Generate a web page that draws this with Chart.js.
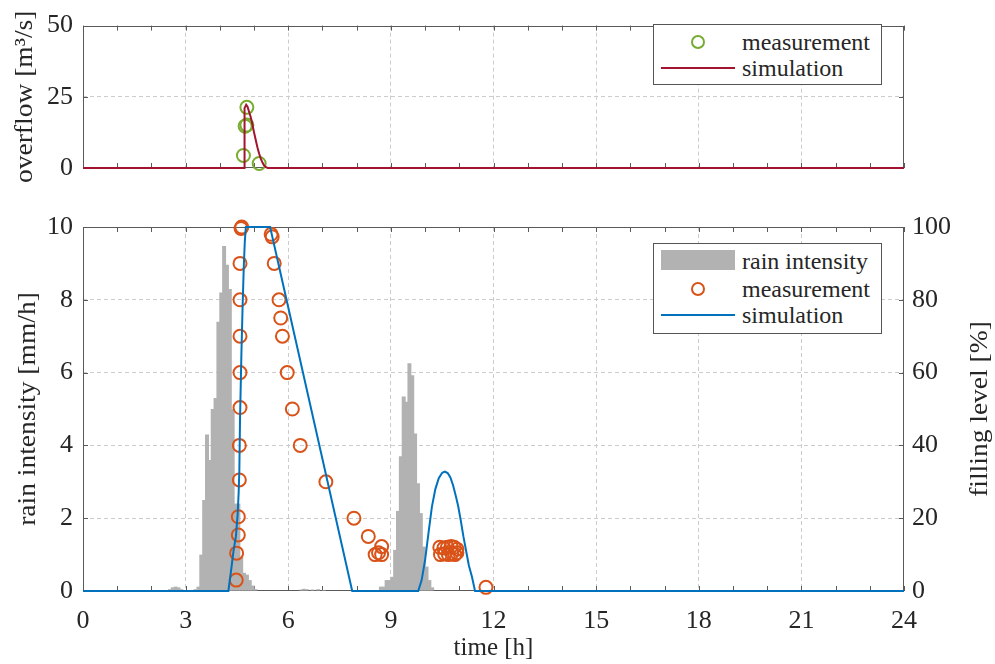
<!DOCTYPE html>
<html>
<head>
<meta charset="utf-8">
<script src="https://cdn.jsdelivr.net/npm/chart.js@4.4.1/dist/chart.umd.min.js"></script>
<style>
  html, body { margin: 0; padding: 0; background: #fff; }
  #wrap { position: relative; width: 995px; height: 664px; overflow: hidden; font-family: "Liberation Serif", serif; color: #262626; }
  #top { position: absolute; left: 0; top: 0; }
  #bottom { position: absolute; left: 0; top: 200px; }
  .legend { position: absolute; border: 1px solid #555; background: #fff; box-sizing: border-box; }
  .lt { position: absolute; font-size: 24px; line-height: 28px; white-space: nowrap; }
  .sym { position: absolute; box-sizing: border-box; }
</style>
</head>
<body>
<div id="wrap">
  <canvas id="top" width="995" height="200"></canvas>
  <canvas id="bottom" width="995" height="464"></canvas>

  <div class="legend" style="left:653px;top:24px;width:229px;height:61px;"></div>
  <div class="sym" id="legTopMeas" style="left:691px;top:35px;width:14px;height:14px;border-radius:50%;"></div>
  <div class="lt" id="legTopMeasTxt" style="left:742px;top:28px;"></div>
  <div class="sym" id="legTopSim" style="left:661px;top:67px;width:74px;height:2px;"></div>
  <div class="lt" id="legTopSimTxt" style="left:742px;top:54px;"></div>

  <div class="legend" style="left:653px;top:243px;width:229px;height:91px;"></div>
  <div class="sym" id="legRain" style="left:661px;top:250px;width:74px;height:20px;"></div>
  <div class="lt" id="legRainTxt" style="left:742px;top:247px;"></div>
  <div class="sym" id="legBotMeas" style="left:691px;top:282px;width:14px;height:14px;border-radius:50%;"></div>
  <div class="lt" id="legBotMeasTxt" style="left:742px;top:275px;"></div>
  <div class="sym" id="legBotSim" style="left:661px;top:314px;width:74px;height:2px;"></div>
  <div class="lt" id="legBotSimTxt" style="left:742px;top:301px;"></div>
</div>
<script>
// ---------------- data ----------------
const timeRange = [0, 24];
const timeLabelStep = 3;
const timeMinorStep = 1;

// top panel: overflow [m^3/s]
const overflowMeasTime  = [4.69, 4.74, 4.79, 4.79, 5.15];
const overflowMeasValue = [4.4, 14.7, 15.1, 21.3, 1.6];
const overflowSimTime  = [0, 4.71, 4.715, 4.73, 4.77, 4.81, 4.86, 4.90, 4.95, 5.00, 5.05, 5.10, 5.15, 5.20, 5.25, 5.30, 5.36, 5.40, 24];
const overflowSimValue = [0, 0, 18, 21, 22.2, 21.5, 19.5, 18, 15.5, 12.5, 9.8, 7.2, 5, 3.2, 1.8, 0.8, 0.2, 0, 0];
const overflowTicks = [0, 25, 50];

// bottom panel: rain intensity [mm/h] (5-minute bins, bin centres in hours)
const rainTime = [2.542, 2.625, 2.708, 2.792, 2.875, 3.208, 3.292, 3.375, 3.458, 3.542, 3.625, 3.708, 3.792, 3.875, 3.958,
  4.042, 4.125, 4.208, 4.292, 4.375, 4.458, 4.542, 4.625, 4.708, 4.792, 4.875, 4.958, 5.042,
  6.375, 6.458, 6.542, 6.708, 6.875, 7.042,
  8.708, 8.792, 8.875, 8.958, 9.042, 9.125, 9.208, 9.292, 9.375, 9.458, 9.542, 9.625, 9.708, 9.792, 9.875, 9.958, 10.042, 10.125, 10.208];
const rainIntensity = [0.05, 0.1, 0.12, 0.1, 0.05, 0.03, 0.05, 0.12, 1.0, 2.5, 4.3, 3.6, 5.0, 5.3, 7.4,
  8.2, 9.48, 8.96, 8.3, 5.0, 2.4, 2.4, 0.94, 0.5, 0.45, 0.3, 0.15, 0.05,
  0.04, 0.06, 0.05, 0.04, 0.05, 0.03,
  0.12, 0.12, 0.3, 0.3, 0.39, 1.13, 2.2, 3.7, 5.34, 5.2, 6.26, 5.93, 4.33, 2.96, 2.14, 1.22, 0.67, 0.3, 0.1];

// bottom panel: filling level [%]
const fillMeasTime  = [4.48, 4.49, 4.54, 4.54, 4.57, 4.57, 4.59, 4.59, 4.59, 4.59, 4.59, 4.62, 4.64,
  5.50, 5.53, 5.59, 5.73, 5.78, 5.83, 5.97, 6.12, 6.35, 7.10, 7.92, 8.34, 8.54, 8.64, 8.73, 8.73,
  10.43, 10.45, 10.55, 10.57, 10.65, 10.68, 10.76, 10.78, 10.85, 10.87, 10.93, 10.93, 11.78];
const fillMeasValue = [3, 10.4, 15.4, 20.4, 30.5, 40, 50.4, 60, 70, 80, 90, 99.6, 100,
  98, 97.3, 90, 80, 75, 70, 60, 50, 40, 30, 20, 15, 10, 10.5, 12.2, 10,
  12, 10, 11.8, 10.2, 12, 10, 12.2, 10.4, 12, 10, 11.5, 10.5, 1];
const fillSimTime  = [0, 4.25, 4.32, 4.40, 4.47, 4.52, 4.55, 4.57, 4.59, 4.63, 4.665, 4.70, 4.73, 4.76, 5.47, 7.87,
  9.80, 9.90, 10.00, 10.10, 10.20, 10.30, 10.40, 10.50, 10.58, 10.66, 10.74, 10.82, 10.90, 10.97, 11.05, 11.12, 11.20, 11.28, 11.37, 11.46, 24];
const fillSimValue = [0, 0, 5, 11, 15, 21, 27, 33, 47, 65, 78, 89, 96, 100, 100, 0,
  0, 3, 8.5, 16, 23.2, 28, 31, 32.5, 32.8, 32.4, 31.2, 29, 26, 23.2, 19, 15, 11, 7, 3.9, 0, 0];
const rainTicksMax = 10, rainTickStep = 2;
const fillTicksMax = 100, fillTickStep = 20;

// labels
const labels = {
  xTitle: 'time [h]',
  overflowTitle: 'overflow [m³/s]',
  rainTitle: 'rain intensity [mm/h]',
  fillTitle: 'filling level [%]',
  rain: 'rain intensity',
  meas: 'measurement',
  sim: 'simulation'
};

// ---------------- style ----------------
const GREEN = '#77AC30', RED = '#A2142F', ORANGE = '#D95319', BLUE = '#0072BD', GRAY = '#b2b2b2';
const TEXT = '#262626', AXIS = '#5a5a5a', GRID = '#cccccc';
const FAMILY = "'Liberation Serif', serif";
const TICK_FONT = { family: FAMILY, size: 26 };
const TITLE_FONT = { family: FAMILY, size: 25 };
const TITLE_STRETCH = 1.1;
Chart.defaults.font.family = FAMILY;
Chart.defaults.font.size = 24;
Chart.defaults.color = TEXT;

const zip = (xs, ys) => xs.map((x, i) => ({ x: x, y: ys[i] }));
const TICK = 5;

const axisFrame = {
  id: 'axisFrame',
  beforeDatasetsDraw(chart) {
    const { ctx, chartArea: a, scales } = chart;
    ctx.save();
    ctx.strokeStyle = AXIS;
    ctx.lineWidth = 1;
    ctx.beginPath();
    const x = scales.x;
    for (let v = x.min; v <= x.max + 1e-9; v += timeMinorStep) {
      const px = Math.round(x.getPixelForValue(v)) + 0.5;
      ctx.moveTo(px, a.bottom); ctx.lineTo(px, a.bottom - TICK);
      ctx.moveTo(px, a.top); ctx.lineTo(px, a.top + TICK);
    }
    const yl = scales.y;
    yl.ticks.forEach(t => {
      const py = Math.round(yl.getPixelForValue(t.value)) + 0.5;
      ctx.moveTo(a.left, py); ctx.lineTo(a.left + TICK, py);
      if (!scales.y2) { ctx.moveTo(a.right, py); ctx.lineTo(a.right - TICK, py); }
    });
    if (scales.y2) {
      scales.y2.ticks.forEach(t => {
        const py = Math.round(scales.y2.getPixelForValue(t.value)) + 0.5;
        ctx.moveTo(a.right, py); ctx.lineTo(a.right - TICK, py);
      });
    }
    ctx.stroke();
    ctx.strokeRect(Math.round(a.left) + 0.5, Math.round(a.top) + 0.5, Math.round(a.right - a.left) - 1, Math.round(a.bottom - a.top) - 1);
    ctx.restore();
  }
};

// vertical axis titles (read bottom to top), centred on the plot area
const makeVTitles = items => ({
  id: 'vTitles',
  afterDraw(chart) {
    const { ctx, chartArea: a } = chart;
    items.forEach(it => {
      ctx.save();
      ctx.fillStyle = TEXT;
      ctx.font = TITLE_FONT.size + 'px ' + FAMILY;
      ctx.translate(it.x, (a.top + a.bottom) / 2);
      ctx.rotate(-Math.PI / 2);
      ctx.scale(TITLE_STRETCH, 1);
      ctx.textAlign = 'center';
      ctx.textBaseline = 'middle';
      ctx.fillText(it.text, 0, 0);
      ctx.restore();
    });
  }
});

const xGridColor = c => {
  const v = c.tick ? c.tick.value : NaN;
  return (v > timeRange[0] && v < timeRange[1]) ? GRID : 'rgba(0,0,0,0)';
};

// ---------------- top chart ----------------
new Chart(document.getElementById('top'), {
  type: 'scatter',
  data: {
    datasets: [
      { type: 'line', label: labels.sim, data: zip(overflowSimTime, overflowSimValue), borderColor: RED, borderWidth: 2,
        pointRadius: 0, fill: false, tension: 0, clip: false, order: 1 },
      { type: 'scatter', label: labels.meas, data: zip(overflowMeasTime, overflowMeasValue), borderColor: GREEN,
        backgroundColor: 'rgba(0,0,0,0)', pointRadius: 6.5, borderWidth: 2, clip: false, order: 2 }
    ]
  },
  options: {
    responsive: false, animation: false,
    layout: { padding: { left: 0, right: 91, top: 17, bottom: 0 } },
    plugins: { legend: { display: false }, tooltip: { enabled: false } },
    scales: {
      x: { type: 'linear', min: timeRange[0], max: timeRange[1],
        ticks: { display: false, stepSize: timeLabelStep },
        grid: { color: xGridColor, drawTicks: false }, border: { display: false, dash: [4, 3] },
        afterFit: s => { s.height = 32; } },
      y: { type: 'linear', min: overflowTicks[0], max: overflowTicks[overflowTicks.length - 1],
        afterBuildTicks: s => { s.ticks = overflowTicks.map(v => ({ value: v })); },
        ticks: { padding: 10, color: TEXT, font: TICK_FONT },
        grid: { color: c => (c.tick && c.tick.value > 0 && c.tick.value < 50) ? GRID : 'rgba(0,0,0,0)', drawTicks: false },
        border: { display: false, dash: [4, 3] },
        title: { display: false, text: labels.overflowTitle },
        afterFit: s => { s.width = 83; } }
    }
  },
  plugins: [axisFrame, makeVTitles([{ text: labels.overflowTitle, x: 25 }])]
});

// ---------------- bottom chart ----------------
new Chart(document.getElementById('bottom'), {
  type: 'bar',
  data: {
    datasets: [
      { type: 'line', label: labels.sim, data: zip(fillSimTime, fillSimValue), yAxisID: 'y2', borderColor: BLUE, borderWidth: 2,
        pointRadius: 0, fill: false, tension: 0, clip: false, order: 1 },
      { type: 'scatter', label: labels.meas, data: zip(fillMeasTime, fillMeasValue), yAxisID: 'y2', borderColor: ORANGE,
        backgroundColor: 'rgba(0,0,0,0)', pointRadius: 6.5, borderWidth: 2, clip: false, order: 2 },
      { type: 'bar', label: labels.rain, data: zip(rainTime, rainIntensity), yAxisID: 'y', backgroundColor: GRAY,
        borderWidth: 0, barPercentage: 1.4, categoryPercentage: 1, order: 3 }
    ]
  },
  options: {
    responsive: false, animation: false,
    layout: { padding: { left: 0, right: 0, top: 27, bottom: 0 } },
    plugins: { legend: { display: false }, tooltip: { enabled: false } },
    scales: {
      x: { type: 'linear', min: timeRange[0], max: timeRange[1], offset: false,
        ticks: { stepSize: timeLabelStep, padding: 15, color: TEXT, maxRotation: 0, autoSkip: false, font: TICK_FONT },
        grid: { color: xGridColor, drawTicks: false, offset: false }, border: { display: false, dash: [4, 3] },
        title: { display: true, text: labels.xTitle, color: TEXT, font: TITLE_FONT, padding: { top: 0, bottom: 1 } },
        afterFit: s => { s.height = 73; } },
      y: { type: 'linear', position: 'left', min: 0, max: rainTicksMax, beginAtZero: true,
        ticks: { stepSize: rainTickStep, padding: 10, color: TEXT, font: TICK_FONT },
        grid: { color: c => (c.tick && c.tick.value > 0 && c.tick.value < rainTicksMax) ? GRID : 'rgba(0,0,0,0)', drawTicks: false },
        border: { display: false, dash: [4, 3] },
        title: { display: false, text: labels.rainTitle },
        afterFit: s => { s.width = 83; } },
      y2: { type: 'linear', position: 'right', min: 0, max: fillTicksMax,
        ticks: { stepSize: fillTickStep, padding: 8, color: TEXT, font: TICK_FONT },
        grid: { display: false, drawTicks: false }, border: { display: false },
        title: { display: false, text: labels.fillTitle },
        afterFit: s => { s.width = 91; } }
    }
  },
  plugins: [axisFrame, makeVTitles([{ text: labels.rainTitle, x: 28 }, { text: labels.fillTitle, x: 980 }])]
});

// ---------------- legends (HTML text) ----------------
const setSym = (id, css) => Object.assign(document.getElementById(id).style, css);
setSym('legTopMeas', { border: '2px solid ' + GREEN });
setSym('legTopSim', { background: RED });
setSym('legRain', { background: GRAY });
setSym('legBotMeas', { border: '2px solid ' + ORANGE });
setSym('legBotSim', { background: BLUE });
document.getElementById('legTopMeasTxt').textContent = labels.meas;
document.getElementById('legTopSimTxt').textContent = labels.sim;
document.getElementById('legRainTxt').textContent = labels.rain;
document.getElementById('legBotMeasTxt').textContent = labels.meas;
document.getElementById('legBotSimTxt').textContent = labels.sim;
</script>
</body>
</html>
